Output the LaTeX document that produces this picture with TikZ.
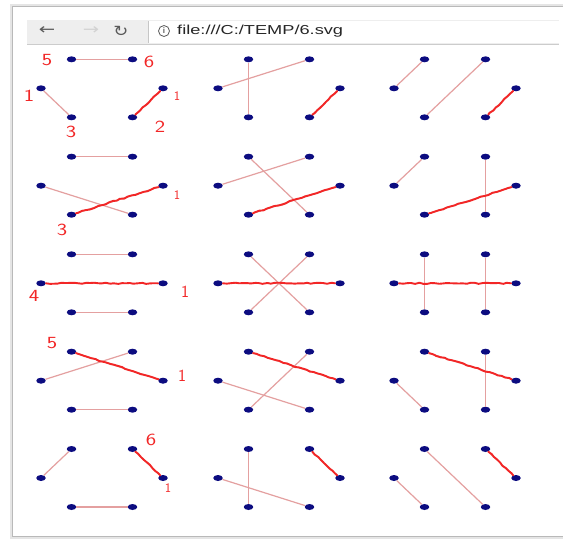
\documentclass[tikz,border=0pt]{standalone}
\usepackage{fontspec}
\usetikzlibrary{shapes.geometric, decorations.pathmorphing}
\newfontfamily\uifont{Liberation Sans}
\newfontfamily\symfont{DejaVu Sans}
\definecolor{dotblue}{RGB}{12, 12, 128}
\definecolor{linkpink}{RGB}{228, 160, 160}
\definecolor{penred}{RGB}{242, 38, 38}
\definecolor{chrome}{RGB}{238, 238, 238}
\definecolor{icongray}{RGB}{90, 90, 90}

\begin{document}
\begin{tikzpicture}[
    x=1pt, y=-1pt,
    vtx/.style={ellipse, fill=dotblue, minimum width=9.5pt, minimum height=6pt, inner sep=0pt},
    link/.style={draw=linkpink, line width=1.2pt},
    redpen/.style={draw=penred, line width=1.9pt, line cap=round, line join=round, decorate, decoration={random steps, segment length=4pt, amplitude=0.6pt}},
    handnum/.style={text=penred, font=\sffamily\fontsize{17}{17}\selectfont, inner sep=0pt},
    smallnum/.style={handnum, font=\sffamily\fontsize{13}{13}\selectfont},
    icon/.style={text=icongray, font=\symfont\fontsize{15}{15}\selectfont, inner sep=0pt}
]
    \pgfmathsetseed{7}
    \useasboundingbox (0,0) rectangle (563,539);
    \fill[white] (0,0) rectangle (563,539);

    % browser window
    \draw[gray!20, line width=3pt] (563,5) -- (11,5) -- (11,537) -- (563,537);
    \draw[gray!55, line width=1pt] (563,6) -- (12,6) -- (12,536) -- (563,536);
    \fill[chrome] (27,20) rectangle (559,44);
    \fill[white] (148,21) rectangle (559,43);
    \draw[gray!40] (27,44.5) -- (559,44.5);
    \draw[gray!45] (148,21) -- (148,43);
    \node[icon] (back) at (47,31) {\scalebox{1.3}[1]{←}};
    \node[icon, text=gray!35] (fwd) at (91,31) {\scalebox{1.3}[1]{→}};
    \node[icon] (reload) at (121,31) {\scalebox{1.2}[1]{↻}};
    \node[circle, draw=icongray, thick, minimum size=11pt, inner sep=0pt, text=icongray,
          font=\uifont\bfseries\fontsize{8}{8}\selectfont] (info) at (164,31) {i};
    \node[anchor=west, inner sep=0pt, text=gray!30!black, font=\uifont\fontsize{13}{13}\selectfont]
          (url) at (177,31) {\scalebox{1.4}[1]{file:///C:/TEMP/6.svg}};

    % fifteen six-point graphs
    \foreach \r/\cy in {1/88.3, 2/185.7, 3/283.3, 4/380.7, 5/478}
      \foreach \c/\cx in {1/102, 2/279, 3/455} {
        \node[vtx] (g\r\c-L)  at ({\cx-61},{\cy}) {};
        \node[vtx] (g\r\c-TL) at ({\cx-30.5},{\cy-29}) {};
        \node[vtx] (g\r\c-TR) at ({\cx+30.5},{\cy-29}) {};
        \node[vtx] (g\r\c-R)  at ({\cx+61},{\cy}) {};
        \node[vtx] (g\r\c-BR) at ({\cx+30.5},{\cy+29}) {};
        \node[vtx] (g\r\c-BL) at ({\cx-30.5},{\cy+29}) {};
      }

    \foreach \g/\a/\b in {11/TL/TR, 11/L/BL, 11/R/BR, 12/TL/BL, 12/L/TR, 12/R/BR,
                          13/L/TL, 13/BL/TR, 13/R/BR, 21/TL/TR, 21/L/BR, 21/R/BL,
                          22/TL/BR, 22/L/TR, 22/R/BL, 23/L/TL, 23/TR/BR, 23/R/BL,
                          31/TL/TR, 31/BL/BR, 31/L/R, 32/TL/BR, 32/TR/BL, 32/L/R,
                          33/TL/BL, 33/TR/BR, 33/L/R, 41/L/TR, 41/BL/BR, 41/TL/R,
                          42/L/BR, 42/TR/BL, 42/TL/R, 43/L/BL, 43/TR/BR, 43/TL/R,
                          51/L/TL, 51/BL/BR, 51/TR/R, 52/TL/BL, 52/L/BR, 52/TR/R,
                          53/L/BL, 53/TL/BR, 53/TR/R}
      \draw[link] (g\g-\a) -- (g\g-\b);

    % hand-drawn strokes
    \foreach \r/\a/\b in {1/R/BR, 2/R/BL, 3/L/R, 4/TL/R, 5/TR/R}
      \foreach \c in {1,2,3}
        \draw[redpen] (g\r\c-\a) -- (g\r\c-\b);

    % hand-written numbers
    \node[handnum] (n5a) at (47,60) {\scalebox{1.3}[1]{5}};
    \node[handnum] (n6a) at (149,62) {\scalebox{1.3}[1]{6}};
    \node[handnum] (n1a) at (29,96) {\scalebox{1.3}[1]{1}};
    \node[handnum] (n3a) at (71,132) {\scalebox{1.3}[1]{3}};
    \node[handnum] (n2a) at (160,127) {\scalebox{1.3}[1]{2}};
    \node[smallnum] (n1b) at (177,96) {1};
    \node[smallnum] (n1c) at (177,195) {1};
    \node[handnum] (n3b) at (62,230) {\scalebox{1.3}[1]{3}};
    \node[handnum] (n4a) at (34,296) {\scalebox{1.3}[1]{4}};
    \node[handnum] (n1d) at (185,292) {1};
    \node[handnum] (n5b) at (52,343) {\scalebox{1.3}[1]{5}};
    \node[handnum] (n1e) at (182,376) {1};
    \node[handnum] (n6b) at (151,440) {\scalebox{1.3}[1]{6}};
    \node[smallnum] (n1f) at (168,488) {1};
\end{tikzpicture}
\end{document}
